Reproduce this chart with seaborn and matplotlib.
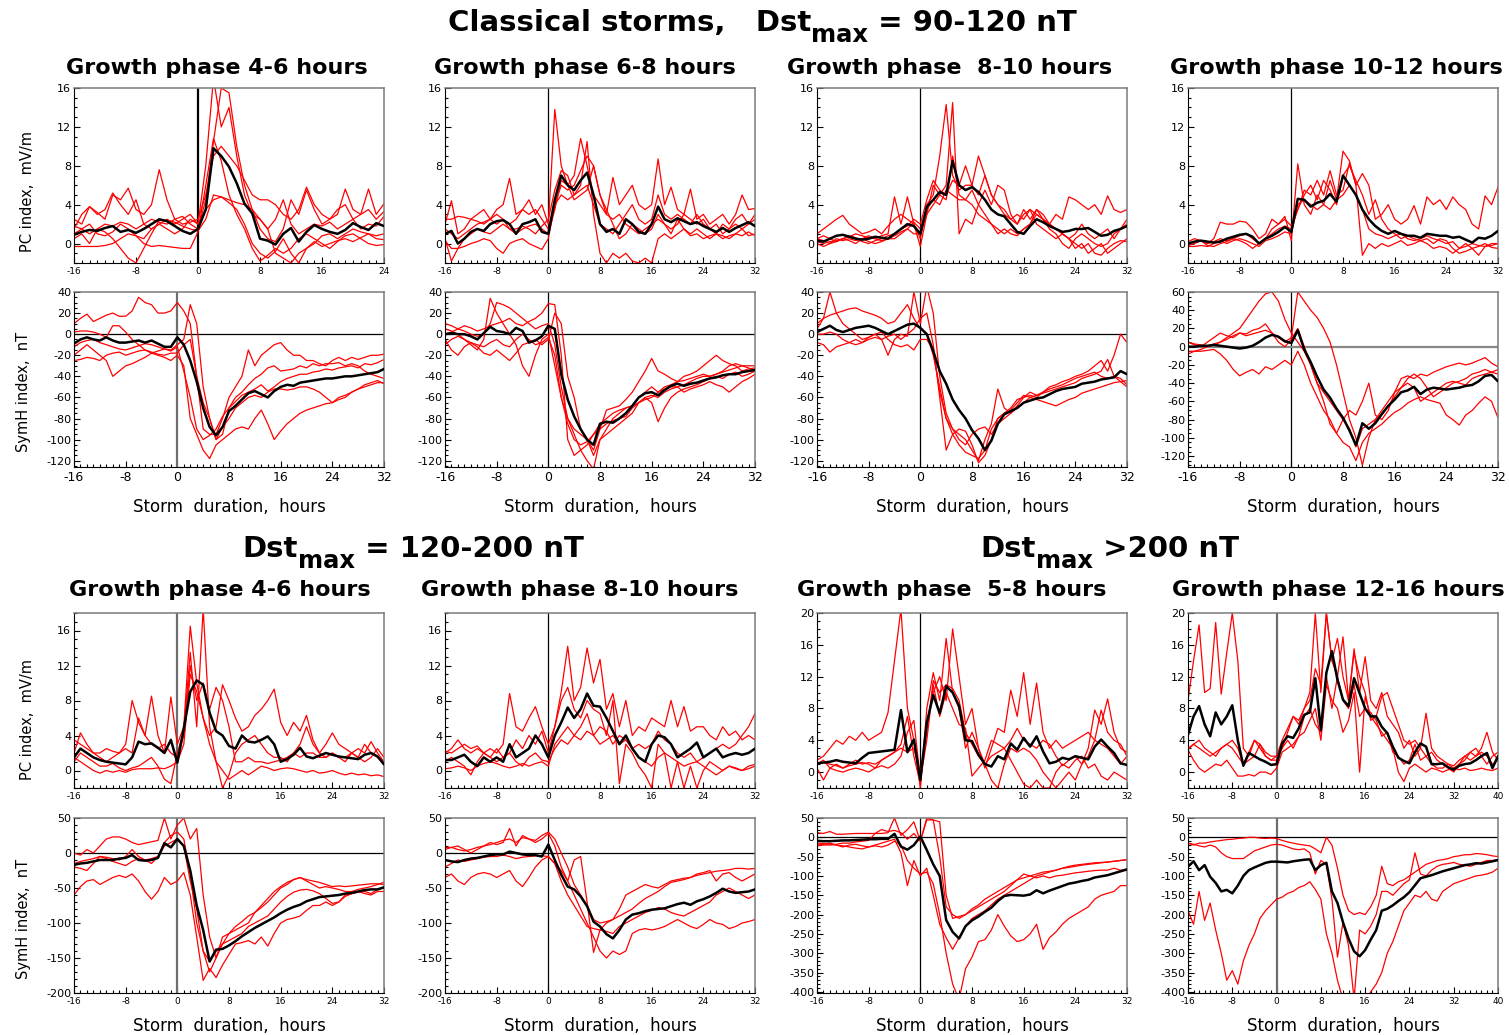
import numpy as np
import pandas as pd
import matplotlib
matplotlib.use("Agg")
import matplotlib.pyplot as plt
import seaborn as sns
from matplotlib.ticker import MultipleLocator
from matplotlib.transforms import IdentityTransform

# ---------------- data (hourly values) ----------------
# Row 1: PC index, Dst 90-120 nT
A_mean = [0.9, 1.2, 1.4, 1.3, 1.6, 1.8, 1.2, 1.4,
          1.1, 1.5, 2.0, 2.5, 2.3, 1.8, 1.3, 1.0,
          1.5, 3.5, 9.8, 9.0, 7.9, 6.2, 4.1, 3.1,
          0.5, 0.3, -0.1, 1.0, 1.6, 0.2, 1.2, 1.9,
          1.5, 1.2, 1.0, 1.4, 2.1, 1.7, 1.4, 2.1,
          1.8]
A_storms = [
    [1.5, 3.0, 3.8, 3.2, 2.5, 5.0, 4.5, 5.7,
     3.5, 3.0, 4.0, 7.6, 4.5, 2.5, 2.8, 2.0,
     1.5, 4.5, 10.5, 16.0, 15.5, 10.0, 6.0, 3.5,
     1.5, 0.5, 0.2, 1.5, 4.5, 3.0, 5.5, 3.5,
     2.0, 2.5, 3.0, 5.6, 3.5, 3.0, 5.6, 3.0,
     4.1],
    [0.5, 1.0, 0.0, 1.5, 1.2, 0.5, -0.5, -1.5,
     -2.0, -0.5, 1.0, 2.4, 2.4, 2.2, 1.8, 1.5,
     1.3, 2.5, 5.0, 4.8, 4.2, 3.5, 2.0, 0.0,
     -1.0, -1.5, -0.8, 0.5, -1.0, -2.0, -0.5, 0.2,
     -0.3, 0.0, 0.3, 0.5, 0.2, 0.6, 1.0, 0.8,
     1.0],
    [-0.3, -0.3, -0.3, -0.3, -0.2, 0.0, 0.5, 1.0,
     0.8, 0.0, -0.3, -0.2, -0.3, -0.4, -0.5, -0.5,
     1.2, 6.0, 10.8, 8.5, 5.0, 3.0, 1.5, -0.5,
     -1.8, -1.2, -0.5, -1.0, -0.5, 0.5, 1.0, 0.5,
     0.0, -0.5, 0.2, 0.8, 1.0, 0.5, 0.0, -0.2,
     -0.1],
    [2.5, 2.0, 3.8, 3.0, 3.5, 5.2, 4.0, 3.0,
     4.5, 2.0, 1.5, 2.0, 2.5, 2.0, 2.5, 3.0,
     2.0, 8.0, 17.0, 12.0, 14.0, 9.0, 5.0, 3.0,
     2.5, 1.5, 2.5, 4.5, 2.0, 1.0, 1.5, 2.0,
     1.8, 2.2, 1.5, 2.0, 2.5, 1.5, 2.0, 1.8,
     2.8],
    [1.0, 1.5, 2.0, 1.0, 0.8, 1.2, 2.0, 1.5,
     0.8, 0.5, 1.5, 2.0, 1.5, 1.0, 1.5, 2.5,
     2.0, 3.5, 4.5, 4.8, 4.5, 4.2, 4.0, 3.5,
     2.5, 1.5, -1.0, -1.5, -2.0, -1.0, -0.5, 0.0,
     0.8, 1.0, 0.5, 1.0, 1.5, 1.2, 1.0, 0.5,
     0.4],
    [1.8, 1.5, 1.0, 1.5, 2.0, 1.8, 2.2, 2.0,
     1.5, 2.0, 2.5, 2.2, 2.0, 2.5, 2.0, 2.2,
     2.5, 5.0, 9.0, 10.0, 9.0, 8.0, 6.5, 5.0,
     4.5, 4.5, 4.0, 3.0, 2.5, 3.5, 5.8, 4.0,
     3.0, 2.5, 3.5, 4.0, 2.5, 3.0, 3.5, 2.5,
     3.3],
]

B_mean = [1.0, 1.3, 0.0, 0.5, 1.2, 1.5, 1.3, 2.0,
          2.3, 2.4, 2.0, 1.0, 2.0, 2.2, 2.5, 1.2,
          1.0, 4.5, 7.0, 6.0, 5.5, 6.5, 7.3, 5.0,
          2.0, 1.2, 1.5, 1.0, 2.5, 2.0, 1.2, 1.0,
          2.0, 3.8, 2.5, 2.2, 2.6, 2.3, 2.0, 2.2,
          1.8, 1.5, 1.2, 1.6, 1.2, 1.6, 1.9, 2.2,
          1.8]
B_storms = [
    [2.0, 4.4, 1.0, 1.5, 2.5, 3.0, 3.5, 2.5,
     3.5, 4.0, 6.7, 3.0, 3.5, 4.5, 3.0, 4.0,
     2.0, 13.8, 8.0, 6.0, 7.0, 10.8, 8.0, 5.0,
     4.0, 3.0, 6.8, 4.0, 5.0, 6.0, 4.0, 3.5,
     4.0, 8.7, 4.0, 5.8, 3.5, 3.0, 5.6, 2.5,
     3.0, 2.0, 2.5, 3.0, 2.0, 3.0, 5.0, 3.5,
     3.6],
    [0.5, -1.8, -0.5, 0.5, 1.0, 1.5, 1.2, 1.0,
     1.5, 2.0, 1.5, 1.5, 1.8, 1.5, 1.0, 1.8,
     2.5, 5.5, 7.5, 7.0, 5.0, 6.0, 10.5, 3.0,
     -1.0, -2.0, -1.0, -1.5, -1.0, -1.8, -2.0, -1.5,
     -2.0, 0.5, 1.0, 0.5, 1.0, 1.5, 0.8, 1.0,
     0.5, 0.8, 1.0, 0.5, 0.8, 1.0, 0.8, 1.2,
     0.8],
    [0.3, -0.5, -0.5, -0.3, 0.0, 0.2, 0.5, 0.3,
     -0.5, -1.0, 0.0, 0.3, 0.5, 0.0, -0.3, -0.6,
     0.5, 4.0, 6.0, 5.5, 6.0, 7.5, 9.0, 8.0,
     5.0, 3.0, 2.5, 3.0, 2.0, 1.5, 1.0, 1.5,
     2.0, 2.5, 2.0, 1.5, 2.0, 3.0, 2.5, 2.0,
     2.5, 1.5, 1.0, 2.0, 1.5, 2.5, 3.0, 2.0,
     2.5],
    [2.5, 2.5, 2.8, 2.7, 2.5, 2.3, 2.0, 2.5,
     3.0, 2.5, 2.0, 2.5, 3.5, 3.0, 3.5, 2.5,
     1.5, 4.0, 5.0, 4.5, 5.0, 5.5, 6.0, 4.0,
     2.0, 1.5, 1.0, 2.0, 3.0, 4.0, 2.5, 2.0,
     2.5, 5.0, 3.0, 2.5, 3.0, 2.5, 2.0, 3.0,
     2.0, 1.5, 2.0, 1.0, 1.5, 2.0, 1.5, 2.0,
     3.0],
    [1.5, 1.0, 0.5, 1.0, 1.5, 2.0, 2.2, 2.5,
     2.0, 2.5, 1.5, 1.0, 1.5, 1.8, 2.0, 1.5,
     1.0, 3.5, 6.5, 6.0, 4.5, 5.0, 5.5, 8.0,
     5.0, 3.5, 2.0, 0.5, 1.0, 2.0, 1.5, 1.0,
     1.5, 3.0, 2.0, 1.0, 2.5, 1.5, 1.0, 1.5,
     1.0, 0.5, 1.0, 0.8, 0.5, 1.0, 1.5, 0.8,
     1.0],
]

C_mean = [0.3, 0.2, 0.5, 0.8, 0.9, 0.7, 0.5, 0.4,
          0.5, 0.7, 0.6, 0.5, 1.0, 1.5, 2.0, 1.8,
          1.0, 3.8, 4.5, 5.3, 5.0, 8.5, 6.0, 5.5,
          5.8, 5.3, 4.5, 3.5, 3.0, 2.8, 2.0, 1.2,
          1.0, 1.8, 2.5, 2.2, 1.8, 1.5, 1.2, 1.3,
          1.5, 1.5, 1.6, 1.2, 0.8, 0.9, 1.3, 1.5,
          1.8]
C_storms = [
    [1.0, 1.5, 2.0, 2.5, 2.9, 2.0, 1.5, 1.0,
     1.2, 1.5, 1.0, 1.8, 2.5, 3.0, 2.5, 2.0,
     0.5, 4.0, 5.0, 9.0, 14.3, 7.0, 5.5, 6.0,
     6.0, 9.0, 7.0, 5.0, 4.0, 3.0, 2.5, 3.0,
     2.5, 3.5, 3.0, 2.5, 2.0, 3.0, 2.5, 4.8,
     4.5, 4.0, 3.5, 4.0, 3.0, 4.9, 3.5, 3.2,
     3.5],
    [0.0, -0.3, 0.0, 0.2, 0.5, 0.3, 0.0, 0.5,
     0.8, 0.5, 0.8, 1.0, 4.8, 2.0, 4.8, 2.0,
     -0.3, 3.0, 6.0, 5.0, 6.0, 14.5, 1.0, 2.5,
     2.0, 4.0, 5.5, 4.0, 6.0, 5.5, 3.0, 2.0,
     3.0, 3.5, 2.0, 1.5, 1.0, 0.5, 1.0, 0.5,
     -0.5, 0.0, -1.0, -0.5, 0.0, -1.0, -0.5, 0.0,
     0.5],
    [0.5, 0.8, 0.5, 0.2, 0.5, 0.8, 0.6, 0.2,
     0.0, 0.3, 0.5, 0.8, 1.0, 1.5, 1.8, 2.5,
     2.0, 4.5, 6.5, 5.5, 5.0, 6.5, 6.0, 8.0,
     6.0, 5.0, 7.0, 5.0, 4.0, 3.5, 2.5, 2.0,
     3.5, 2.5, 3.5, 3.0, 2.0, 1.5, 1.0, 0.5,
     0.0, -0.5, 0.0, -1.0, -1.2, -0.5, 0.0, 0.3,
     0.2],
    [0.2, 0.0, 0.2, 0.3, 0.5, 0.7, 1.0, 0.8,
     0.6, 0.5, 0.3, 0.5, 0.8, 1.2, 1.5, 2.2,
     1.5, 3.5, 4.5, 4.0, 5.5, 5.0, 4.5, 4.5,
     4.0, 3.0, 2.5, 2.0, 1.5, 1.0, 1.5, 1.0,
     1.5, 2.0, 3.0, 2.5, 2.0, 1.5, 1.0, 0.5,
     1.0, 2.0, 1.0, 0.5, 1.0, 1.5, 0.5, 1.5,
     2.0],
    [0.5, 0.3, 0.0, 0.5, 0.3, 0.5, 0.3, 0.5,
     0.2, 0.0, 0.2, 0.5, 0.5, 1.0, 1.5, 1.0,
     1.0, 3.0, 4.0, 5.0, 4.5, 9.0, 5.0, 4.5,
     5.5, 4.0, 3.0, 2.0, 1.0, 1.5, 1.0, 0.8,
     1.5, 2.0, 3.5, 2.5, 1.5, 1.0, 0.0, -0.5,
     0.5, 1.0, 0.5, 0.0, -0.3, 0.0, 1.0, 1.5,
     2.5],
]

D_mean = [0.0, 0.2, 0.3, 0.2, 0.1, 0.2, 0.5, 0.7,
          0.9, 1.0, 0.7, 0.0, 0.5, 0.8, 1.2, 1.7,
          1.2, 4.6, 4.5, 3.8, 4.2, 4.4, 5.1, 4.3,
          7.0, 6.0, 5.0, 3.5, 2.5, 1.8, 1.3, 1.0,
          1.3, 1.0, 0.8, 0.8, 0.6, 1.0, 0.9, 0.8,
          0.8, 0.6, 0.7, 0.4, 0.1, 0.6, 0.5, 0.8,
          1.3]
D_storms = [
    [0.0, 0.2, 0.3, 0.0, 0.5, 2.2, 2.0, 2.0,
     2.3, 2.2, 1.5, 0.5, 1.0, 2.5, 2.0, 2.5,
     1.8, 3.5, 5.5, 5.0, 6.5, 5.0, 7.5, 5.0,
     5.5, 8.3, 6.0, 7.2, 6.0, 2.5, 3.0, 4.0,
     2.5, 2.0, 2.5, 3.9, 2.0, 4.8, 4.0, 4.5,
     3.5, 4.8, 4.0, 3.5, 2.0, 1.5, 4.9, 4.0,
     5.8],
    [-0.2, 0.0, 0.3, -0.2, -0.3, 0.0, 0.2, 0.5,
     0.3, 0.0, -0.5, 0.0, 0.5, 1.5, 2.0, 2.8,
     0.3, 8.2, 4.0, 3.0, 5.0, 4.0, 3.5, 4.5,
     9.5, 8.5, 6.0, -1.2, 0.0, -0.5, 0.0, -0.3,
     0.0, 0.3, -0.2, 0.0, 0.3, 0.0, -0.5, -0.3,
     -0.5, -1.0, -0.5, 0.0, -0.5, -0.3, 0.0, -0.4,
     -0.5],
    [0.2, 0.5, 0.3, 0.0, 0.2, 0.5, 0.3, 0.5,
     0.8, 1.0, 0.5, 0.0, 0.5, 1.0, 1.5, 1.8,
     1.5, 3.5, 5.0, 6.0, 4.5, 6.5, 5.5, 4.0,
     7.0, 8.0, 6.5, 5.0, 3.0, 4.5, 2.5, 1.5,
     1.0, 0.5, 0.8, 0.5, 0.3, 0.5, 0.0, 0.5,
     0.3, -0.5, -1.0, -0.8, -0.5, -1.2, -0.3, 0.0,
     0.0],
    [-0.3, -0.3, -0.2, -0.3, 0.0, 0.3, 0.0, 0.3,
     0.5, 0.3, 0.0, -0.3, 0.3, 0.5, 0.8, 1.2,
     1.0, 4.0, 4.5, 4.0, 3.5, 4.0, 6.5, 4.5,
     5.0, 6.0, 5.0, 3.5, 1.5, 1.0, 0.8, 0.5,
     0.8, 1.0, 0.5, 0.3, 0.5, 0.8, 0.5, 0.3,
     0.0, 0.2, -0.5, -0.3, 0.0, -0.2, -0.3, -0.2,
     0.0],
]

# Row 2: SymH index, Dst 90-120 nT
E_mean = [-9, -5, -3, -5, -6, -3, -6, -8,
          -8, -7, -6, -8, -6, -9, -12, -12,
          -3, -10, -25, -45, -70, -88, -96, -88,
          -73, -68, -62, -56, -54, -57, -60, -54,
          -50, -48, -49, -46, -45, -44, -43, -42,
          -42, -41, -40, -40, -39, -38, -37, -36,
          -33]
E_storms = [
    [10, 15, 19, 12, 15, 18, 20, 17,
     17, 22, 35, 30, 28, 20, 20, 22,
     30, 22, 10, -40, -90, -95, -95, -80,
     -60, -50, -40, -15, -30, -20, -15, -10,
     -8, -15, -20, -20, -25, -25, -28, -30,
     -25, -22, -25, -22, -24, -22, -20, -20,
     -19],
    [-20, -15, -10, -15, -20, -25, -40, -35,
     -30, -28, -25, -22, -18, -20, -22, -25,
     -20, -30, -80, -95, -110, -118, -105, -100,
     -95, -90, -88, -90, -80, -72, -85, -100,
     -92, -85, -80, -75, -72, -70, -68, -66,
     -65, -60, -58, -55, -52, -50, -48, -46,
     -46],
    [2, 3, 3, 2, 0, -3, 8, 8,
     2, -5, -10, -15, -18, -16, -14, -15,
     -10, -5, 28, 10, -50, -80, -100, -95,
     -70, -60, -55, -48, -42, -38, -32, -30,
     -35, -34, -33, -30, -32, -28, -30, -28,
     -28, -27, -30, -28, -30, -35, -38, -40,
     -42],
    [-25, -24, -22, -23, -25, -20, -18, -17,
     -20, -18, -16, -15, -17, -19, -20, -18,
     -18, -10, -5, -40, -65, -80, -100, -88,
     -80, -70, -65, -60, -58, -60, -55, -52,
     -52, -53, -52, -50, -50, -52, -55, -60,
     -65, -62, -60, -55, -52, -48, -46, -44,
     -47],
    [-12, -8, -6, -5, -8, -10, -12, -14,
     -15, -13, -11, -9, -10, -12, -14, -16,
     -12, -35, -60, -90, -100, -96, -90, -78,
     -70, -64, -58, -55, -52, -48, -54, -50,
     -45, -42, -40, -38, -38, -36, -35, -33,
     -34, -32, -31, -30, -32, -28, -29, -27,
     -24],
]

F_mean = [0, 1, 0, 0, -2, -5, 1, 7,
          3, 2, 0, 6, 3, -8, -6, -2,
          8, 5, -38, -62, -78, -90, -100, -105,
          -85, -83, -84, -80, -75, -68, -60, -56,
          -55, -58, -53, -49, -47, -49, -47, -46,
          -44, -42, -41, -39, -38, -38, -36, -35,
          -34]
F_storms = [
    [5, 3, 0, -5, -10, -15, -5, 34,
     20, 10, 0, -10, -30, -40, -20, -5,
     0, -30, -60, -80, -95, -110, -120, -128,
     -100, -95, -90, -85, -80, -75, -65, -60,
     -65, -83, -70, -60, -55, -52, -50, -48,
     -45, -42, -40, -42, -38, -36, -40, -38,
     -35],
    [10, 8, 5, 8, 6, 3, 5, 8,
     10, 12, 15, 10, 8, 12, 15, 20,
     29, 28, -20, -100, -115, -110, -105, -95,
     -85, -80, -75, -72, -70, -68, -65, -62,
     -60, -55, -52, -50, -50, -48, -45, -42,
     -40, -40, -38, -36, -34, -32, -30, -30,
     -30],
    [-5, -15, -20, -12, -8, -12, -18, -20,
     -15, -20, -25, -18, -10, -8, -5, -10,
     -5, 20, 10, -40, -60, -90, -100, -115,
     -100, -90, -80, -75, -70, -68, -60, -55,
     -50, -55, -50, -48, -45, -44, -42, -40,
     -38, -40, -38, -35, -30, -28, -30, -32,
     -35],
    [0, 2, 5, 3, 0, -2, 0, 10,
     30, 28, 25, 20, 15, 10, 5, 8,
     10, -10, -50, -80, -90, -95, -100, -110,
     -90, -72, -70, -68, -62, -55, -45, -35,
     -23, -35, -38, -42, -45, -40, -38, -35,
     -30, -25, -20, -25, -28, -30, -35, -33,
     -32],
    [-10, -5, -2, -5, -8, -10, -12, -8,
     -5, -10, -12, -5, 0, -5, -10, -8,
     -3, -20, -60, -85, -100, -105, -102, -95,
     -90, -85, -82, -80, -78, -70, -65, -60,
     -58, -60, -55, -52, -50, -55, -52, -50,
     -48, -45, -48, -50, -55, -50, -45, -42,
     -38],
]

G_mean = [2, 5, 8, 4, 2, 4, 6, 7,
          8, 6, 3, 0, 3, 6, 9, 10,
          6, 0, -16, -35, -47, -62, -72, -80,
          -91, -99, -110, -101, -85, -76, -73, -70,
          -65, -63, -61, -60, -57, -54, -52, -51,
          -50, -47, -46, -45, -43, -42, -41, -35,
          -38]
G_storms = [
    [5, 15, 40, 20, 10, 5, 0, -5,
     -3, 0, -5, -20, -5, 0, -2, 40,
     10, 45, 20, -40, -75, -90, -95, -100,
     -110, -120, -100, -85, -52, -70, -75, -68,
     -60, -55, -58, -55, -50, -48, -45, -43,
     -40, -38, -35, -30, -25, -35, -20, 0,
     -8],
    [10, 15, 18, 20, 22, 24, 25, 22,
     20, 18, 15, 10, 12, 20, 28, 15,
     5, 0, -20, -50, -80, -95, -105, -112,
     -115, -118, -110, -90, -80, -75, -70, -62,
     -60, -58, -60, -55, -52, -50, -48, -45,
     -42, -40, -38, -36, -40, -42, -40, -45,
     -44],
    [-8, -10, -17, -12, -10, -8, -5, -8,
     -3, 0, 2, -5, -10, -12, -10, -15,
     -5, -5, -15, -55, -80, -90, -100, -105,
     -95, -90, -88, -95, -85, -80, -75, -70,
     -65, -60, -62, -64, -66, -68, -65, -62,
     -60, -56, -54, -52, -50, -48, -46, -45,
     -50],
    [0, 0, 2, 0, -5, -8, -10, -8,
     -5, -3, -5, -2, 0, -5, 0, 5,
     15, 20, -10, -60, -110, -95, -90, -92,
     -105, -122, -115, -100, -80, -75, -72, -65,
     -58, -60, -58, -56, -54, -52, -50, -48,
     -46, -42, -40, -38, -35, -24, -40, -42,
     -48],
]

H_mean = [0, 0, 1, 1, 2, 1, 0, -1,
          -2, -1, 1, 5, 10, 13, 11, 6,
          4, 18, -3, -17, -33, -47, -56, -68,
          -78, -92, -108, -84, -90, -84, -74, -65,
          -58, -50, -48, -44, -52, -47, -45, -46,
          -47, -46, -45, -43, -42, -38, -32, -31,
          -38]
H_storms = [
    [5, 3, 2, 0, 3, 5, 10, 15,
     20, 30, 40, 50, 58, 60, 50, 30,
     15, 5, -5, -20, -40, -60, -85, -95,
     -80, -70, -75, -60, -40, -75, -80, -70,
     -50, -35, -32, -35, -30, -32, -28, -25,
     -22, -20, -18, -20, -18, -15, -12, -18,
     -22],
    [-8, -5, -3, 0, 2, 5, 8, 12,
     15, 12, 14, 16, 18, 15, 10, 5,
     10, 60, 50, 40, 32, 20, 5, -20,
     -50, -80, -100, -130, -100, -80, -75, -65,
     -55, -45, -35, -30, -35, -45, -55, -50,
     -45, -40, -38, -35, -30, -28, -25, -28,
     -25],
    [-5, -5, -5, -4, -3, -8, -15, -25,
     -32, -28, -25, -30, -22, -25, -20, -15,
     -20, -5, -20, -40, -55, -70, -80, -95,
     -105, -110, -125, -105, -95, -90, -85, -78,
     -72, -68, -62, -58, -55, -58, -60, -62,
     -75, -80, -86, -75, -70, -62, -55, -60,
     -78],
    [5, 2, 0, 5, 10, 15, 12, 10,
     15, 14, 18, 20, 25, 15, 5, 0,
     8, 20, 0, -20, -40, -50, -60, -70,
     -80, -90, -110, -90, -85, -80, -70, -60,
     -50, -45, -40, -45, -60, -55, -50, -45,
     -40, -38, -40, -42, -35, -32, -30, -28,
     -30],
]

# Row 3: PC index, Dst 120-200 nT and >200 nT
I_mean = [1.5, 2.5, 2.0, 1.5, 1.2, 1.0, 0.9, 0.8,
          0.7, 1.5, 3.3, 3.0, 3.1, 2.6, 2.0, 3.5,
          0.9, 4.8, 9.0, 10.3, 9.8, 6.6, 4.5, 4.0,
          2.8, 2.5, 4.0, 3.3, 3.2, 3.5, 3.9, 3.0,
          1.0, 1.3, 1.8, 2.6, 1.6, 1.4, 1.7, 2.0,
          1.8, 1.6, 1.5, 1.4, 1.3, 1.8, 2.0, 1.6,
          0.7]
I_storms = [
    [2.0, 4.3, 3.0, 2.0, 1.5, 1.0, 1.5, 2.0,
     3.0, 8.0, 5.5, 4.0, 8.5, 4.0, 2.0, 8.4,
     3.0, 5.0, 16.5, 10.0, 6.0, 4.0, 5.0, 9.8,
     8.0, 6.0, 4.5, 5.0, 6.3, 7.0, 8.0, 9.3,
     5.5, 4.0, 5.5, 4.5, 6.3, 3.5, 2.0, 3.0,
     4.3, 3.0, 2.5, 2.0, 2.5, 2.0, 3.3, 2.0,
     1.0],
    [1.0, 2.0, 1.5, 1.0, 0.5, 0.5, 0.8, 0.3,
     0.0, 0.3, 0.5, 1.0, 1.5, 0.5, -1.0, -1.5,
     2.0, 4.5, 13.5, 5.0, 18.5, 5.0, 1.0, -2.0,
     -0.5, 2.0, 3.0, 3.5, 4.0, 3.0, 2.0, 1.5,
     1.5, 1.0, 2.0, 3.0, 5.0, 3.0, 2.0, 1.5,
     2.0, 1.5, 1.0, 2.0, 1.5, 3.0, 2.0, 1.5,
     1.0],
    [1.5, 1.0, 0.5, 0.0, -0.3, 0.0, -0.2, 0.0,
     -0.2, 0.1, 0.2, 0.2, 0.2, 0.3, 0.2, 0.5,
     1.0, 3.0, 11.0, 9.0, 6.0, 3.0, 1.0, 0.0,
     -1.0, -0.5, 0.0, -0.5, 0.0, 0.5, 0.3, 0.0,
     0.2, 0.3, 0.2, 0.0, -0.2, 0.0, -0.3, -0.2,
     0.0, -0.3, -0.5, -0.3, -0.5, -0.4, -0.6, -0.5,
     -0.7],
    [3.5, 3.0, 2.5, 2.0, 2.0, 2.5, 2.2, 2.0,
     2.5, 2.0, 6.0, 4.0, 3.0, 2.5, 3.0, 2.0,
     1.5, 4.0, 12.0, 8.0, 10.0, 7.0, 9.5, 8.0,
     5.0, 1.0, 1.0, 1.5, 1.0, 1.0, 0.8, 1.0,
     1.2, 1.5, 2.0, 1.5, 2.0, 2.0, 1.5, 1.5,
     2.0, 1.5, 1.5, 2.0, 1.5, 1.0, 1.5, 2.5,
     1.5],
]

J_mean = [1.2, 1.2, 1.5, 1.8, 1.0, 0.5, 1.5, 1.0,
          1.5, 1.0, 3.0, 1.5, 2.0, 2.5, 4.0, 3.0,
          1.5, 4.0, 5.5, 7.2, 6.0, 7.0, 8.8, 7.4,
          7.3, 6.0, 4.5, 3.0, 4.0, 2.5, 1.5, 1.0,
          3.0, 4.0, 3.8, 3.0, 1.5, 2.0, 2.5, 3.2,
          1.5, 2.0, 2.5, 1.5, 1.8, 2.0, 1.8, 2.0,
          2.5]
J_storms = [
    [2.0, 2.5, 3.5, 2.5, 2.0, 2.5, 2.0, 2.5,
     2.0, 3.0, 8.8, 5.0, 4.5, 6.0, 7.3, 5.0,
     3.0, 5.0, 9.0, 14.2, 8.0, 9.5, 14.0, 10.0,
     12.7, 7.0, 8.8, 5.0, 8.0, 4.0, 5.0, 4.5,
     6.0, 5.5, 5.0, 8.0, 5.0, 7.3, 4.5, 5.0,
     5.0, 4.0, 3.5, 5.0, 4.0, 4.5, 3.5, 4.0,
     3.5],
    [1.0, 1.5, 1.0, 0.5, -0.5, 1.0, 2.0, 1.5,
     1.0, 1.5, 2.0, 3.5, 2.5, 4.0, 3.0, 4.5,
     2.0, 5.0, 8.0, 9.5, 7.0, 6.0, 8.0, 7.0,
     6.5, 4.0, 8.0, -1.5, 3.0, 2.0, 0.5, -0.5,
     -2.0, 3.0, 2.0, -2.0, 1.0, -2.0, 0.5, -2.0,
     0.0, 1.0, 0.5, 0.0, 0.5, 0.2, 0.0, 0.5,
     0.7],
    [0.2, 0.3, 0.5, 0.3, 0.0, 0.5, 0.8, 1.0,
     0.8, 0.5, 0.3, 0.5, 0.8, 0.5, 0.8, 1.0,
     0.5, 3.0, 4.0, 5.0, 4.0, 5.0, 6.5, 4.0,
     5.0, 4.5, 3.0, 4.0, 3.5, 2.5, 1.5, 1.0,
     0.5, 1.5, 2.0, 1.5, 1.0, 0.5, 0.8, 1.0,
     0.5, 0.0, -0.5, 0.0, 0.5, 0.3, 0.0, 0.2,
     0.5],
    [2.2, 2.0, 2.5, 3.0, 2.5, 2.8, 2.0, 1.5,
     2.5, 1.5, 2.0, 1.0, 0.5, 1.5, 2.0, 1.2,
     1.0, 2.5, 3.5, 3.0, 4.0, 3.5, 4.5, 4.0,
     3.0, 3.5, 4.0, 3.0, 3.5, 2.5, 3.0, 2.5,
     3.0, 4.5, 3.5, 3.0, 2.0, 1.5, 2.0, 1.0,
     1.5, 2.0, 2.5, 3.0, 2.5, 3.0, 4.0, 5.0,
     6.5],
]

K_mean = [1.1, 1.2, 1.3, 1.5, 1.3, 1.2, 1.1, 1.8,
          2.4, 2.5, 2.6, 2.7, 2.8, 7.8, 2.5, 4.1,
          -1.0, 6.2, 9.7, 7.4, 10.8, 10.0, 8.3, 4.0,
          3.9, 2.2, 1.0, 0.7, 2.0, 1.6, 3.6, 2.8,
          4.3, 3.2, 4.5, 2.6, 1.1, 1.3, 1.8, 1.6,
          2.0, 1.8, 1.6, 3.2, 4.1, 3.2, 2.4, 1.1,
          0.9]
K_storms = [
    [1.5, 2.0, 3.0, 4.0, 3.5, 4.5, 4.0, 5.0,
     4.0, 4.5, 5.0, 7.5, 14.0, 20.5, 8.0, 4.0,
     -2.0, 8.0, 12.5, 9.0, 16.8, 10.0, 8.0, 3.0,
     5.0, 3.0, 1.0, -1.0, -2.0, 1.0, 3.0, 2.5,
     3.0, 2.5, 1.5, 0.0, -1.0, -2.0, -1.0, 0.0,
     -1.0, 1.0, 3.0, 7.8, 6.0, 9.2, 5.0, 3.0,
     2.5],
    [0.5, -1.0, 0.5, 1.0, 0.5, 1.0, 1.5, 1.0,
     1.2, 1.0, 1.5, 2.0, 2.5, 3.5, 7.0, 2.0,
     -1.5, 6.0, 10.0, 12.0, 9.0, 18.0, 12.0, 6.0,
     8.0, 3.0, 0.5, 3.0, 5.5, 5.0, 10.3, 7.0,
     12.5, 6.0, 11.2, 5.0, 3.0, 4.0, 3.0, 3.5,
     4.0, 4.5, 5.0, 4.0, 3.5, 3.0, 2.0, 1.0,
     2.0],
    [1.0, 1.5, 0.5, 0.2, 0.0, 0.3, 0.5, 0.3,
     0.0, 0.5, 0.8, 0.5, 1.0, 2.0, 5.0, 6.5,
     -1.0, 4.0, 11.0, 7.0, 10.0, 8.0, 6.0, 5.5,
     -0.5, 0.5, 1.5, 4.0, 3.5, 3.0, 1.5, 0.0,
     -1.5, -2.0, -1.0, -2.0, -2.0, 0.0, 1.0, 0.5,
     1.5, 2.0, 0.5, 1.0, -0.5, -1.0, 0.0, -0.5,
     -1.0],
    [1.0, 1.2, 1.0, 0.8, 0.5, 0.8, 1.0, 1.2,
     1.0, 0.5, 1.5, 2.0, 2.5, 3.0, 2.5, 3.0,
     0.0, 5.0, 11.5, 10.0, 11.0, 10.5, 9.0, 5.0,
     3.5, 2.0, 1.0, 2.0, 2.5, 3.0, 4.0, 5.5,
     4.0, 3.5, 3.0, 4.0, 3.5, 2.0, 0.8, 1.5,
     2.0, 1.0, 2.0, 4.0, 7.8, 5.0, 4.0, 3.5,
     2.0],
]

L_mean = [4.7, 7.0, 8.3, 6.0, 4.5, 7.5, 6.0, 7.0,
          8.4, 4.0, 0.8, 2.4, 2.0, 1.6, 1.3, 0.9,
          1.0, 3.6, 4.5, 4.3, 5.5, 7.2, 7.5, 11.8,
          5.3, 12.5, 15.2, 11.6, 9.1, 8.3, 11.8, 9.9,
          8.0, 7.0, 7.0, 5.7, 4.9, 3.2, 1.8, 1.4,
          1.1, 2.5, 3.6, 3.2, 1.0, 1.0, 1.1, 0.6,
          0.3, 0.8, 1.0, 1.1, 1.5, 2.0, 2.4, 0.5,
          2.0]
L_storms = [
    [9.0, 14.0, 18.5, 10.0, 10.5, 18.8, 9.8, 15.0,
     20.0, 14.0, 3.0, 2.0, 4.0, 3.5, 2.0, 1.5,
     2.0, 3.0, 5.0, 7.0, 6.0, 8.0, 10.0, 20.0,
     10.0, 20.0, 14.0, 16.8, 12.0, 9.0, 15.5, 10.0,
     14.5, 9.0, 8.0, 10.0, 7.0, 6.0, 5.0, 3.0,
     4.0, 2.0, 3.0, 7.4, 3.0, 2.0, 1.5, 1.0,
     0.5, 1.0, 2.0, 1.5, 2.0, 3.0, 5.0, 2.5,
     1.5],
    [2.8, 3.5, 4.0, 3.0, 2.5, 2.0, 3.0, 3.5,
     3.0, 2.0, 1.0, 1.5, 2.0, 3.5, 2.5, 2.0,
     2.0, 4.0, 5.5, 7.0, 6.5, 8.0, 9.0, 13.0,
     11.0, 20.0, 14.0, 12.0, 17.0, 9.0, 15.0, 12.0,
     10.0, 6.5, 7.0, 9.5, 10.0, 8.0, 6.0, 4.0,
     3.5, 4.0, 3.0, 2.0, 1.0, 0.5, 0.5, 1.0,
     0.8, 1.5, 2.0, 2.5, 2.0, 2.5, 2.0, 1.0,
     1.5],
    [2.8, 1.5, 0.5, 0.0, 0.5, 1.0, 0.8, 1.5,
     0.5, -0.5, -0.5, -0.3, -0.5, 0.0, 0.0, -0.3,
     0.5, 2.5, 3.0, 3.5, 4.5, 5.0, 6.5, 8.0,
     4.0, 11.0, 9.0, 8.0, 5.0, 6.5, 10.0, 0.0,
     9.5, 7.0, 6.0, 5.0, 4.0, 3.0, 0.0, -1.2,
     0.5, 1.0, 0.5, 0.0, 0.5, 0.3, 0.0, 0.3,
     0.5, 0.3, 0.5, 0.2, 0.3, 0.5, 0.3, 0.2,
     0.5],
    [3.0, 3.5, 3.0, 2.5, 2.0, 2.5, 3.0, 3.5,
     4.0, 3.0, 1.0, 2.5, 4.0, 3.0, 2.0, 1.5,
     1.5, 3.0, 4.0, 3.0, 4.5, 7.0, 8.0, 6.0,
     5.0, 12.0, 8.0, 12.0, 9.0, 8.0, 11.0, 7.0,
     8.0, 7.5, 6.5, 4.5, 5.0, 2.5, 2.0, 1.0,
     1.5, 3.5, 1.5, 2.0, 2.5, 1.5, 1.0, 0.5,
     0.0, 1.0, 1.5, 2.5, 3.0, 2.0, 1.0, 2.0,
     2.5],
]

# Row 4: SymH index, Dst 120-200 nT and >200 nT
M_mean = [-17, -15, -14, -12, -10, -10, -10, -8,
          -7, -3, -10, -11, -10, -7, 14, 8,
          20, 10, -25, -75, -110, -155, -138, -137,
          -132, -126, -119, -113, -107, -102, -97, -92,
          -86, -81, -77, -74, -69, -66, -63, -62,
          -61, -60, -58, -57, -55, -53, -52, -52,
          -49]
M_storms = [
    [0, -3, 5, 0, 10, 20, 23, 23,
     20, 15, 12, 14, 16, 18, 50, 20,
     40, 50, 20, 35, -60, -120, -150, -120,
     -115, -110, -105, -100, -85, -75, -65, -55,
     -48, -42, -38, -35, -38, -40, -42, -45,
     -48, -47, -48, -47, -46, -45, -44, -44,
     -45],
    [-60, -48, -40, -38, -45, -40, -35, -32,
     -35, -30, -40, -55, -66, -55, -35, -45,
     -40, -28, -60, -120, -182, -165, -178, -160,
     -145, -130, -128, -125, -130, -120, -133, -115,
     -100, -95, -93, -90, -82, -75, -75, -70,
     -75, -70, -60, -58, -55, -58, -60, -55,
     -55],
    [-20, -22, -25, -15, -5, -8, -12, -15,
     -18, -12, -8, -10, -15, -5, 15, 25,
     30, 20, -30, -100, -140, -170, -150, -130,
     -125, -120, -115, -105, -100, -95, -90, -80,
     -70, -62, -56, -53, -52, -54, -58, -65,
     -72, -70, -62, -58, -56, -55, -58, -52,
     -50],
    [-15, -12, -10, -8, -5, -6, -8, -10,
     -5, 5, -5, -10, -8, -5, 10, 15,
     20, 10, -40, -80, -140, -155, -140, -130,
     -115, -105, -98, -90, -85, -78, -70, -60,
     -50, -45, -38, -35, -40, -45, -50, -48,
     -50, -52, -55, -55, -52, -50, -48, -45,
     -42],
]

N_mean = [-10, -12, -13, -10, -8, -7, -5, -3,
          -2, -2, 2, 0, -2, -3, -3, -5,
          12, -10, -31, -48, -52, -62, -76, -98,
          -105, -116, -122, -110, -95, -88, -86, -83,
          -81, -80, -79, -76, -73, -71, -74, -69,
          -66, -62, -57, -51, -55, -57, -56, -55,
          -52]
N_storms = [
    [8, 8, 5, 3, 5, 8, 10, 12,
     15, 18, 20, 15, 22, 20, 18, 25,
     30, 20, 0, -20, -45, -60, -75, -95,
     -100, -98, -95, -90, -85, -80, -72, -65,
     -60, -55, -48, -42, -40, -38, -35, -32,
     -30, -28, -26, -25, -24, -22, -22, -23,
     -22],
    [-35, -30, -40, -45, -35, -30, -28, -30,
     -35, -30, -25, -40, -48, -35, -20, -10,
     -5, -15, -25, -40, -60, -80, -100, -120,
     -140, -150, -140, -145, -140, -115, -110, -108,
     -110, -108, -105, -100, -95, -100, -105, -108,
     -102, -95, -100, -102, -108, -105, -100, -98,
     -95],
    [5, 8, 10, 5, 0, 5, 10, 15,
     12, 15, 35, 10, 25, 20, 15, 20,
     28, 10, -20, -40, -10, -5, -70, -142,
     -110, -100, -95, -80, -60, -55, -50, -45,
     -48, -50, -45, -40, -38, -36, -35, -30,
     -28, -25, -40, -30, -28, -35, -40, -35,
     -30],
    [-20, -15, -10, -12, -10, -8, -6, -5,
     -5, -3, -5, -8, -6, -5, -4, -4,
     -5, -15, -40, -60, -75, -90, -105, -108,
     -110, -112, -115, -105, -100, -95, -90, -85,
     -82, -78, -80, -85, -88, -90, -85, -80,
     -75, -70, -60, -55, -50, -55, -60, -65,
     -60],
]

O_mean = [-9, -10, -10, -9, -8, -8, -7, -6,
          -5, -5, -4, -4, 9, -24, -32, -20,
          2, -33, -70, -100, -214, -245, -262, -230,
          -215, -205, -193, -182, -165, -152, -149, -150,
          -151, -148, -137, -145, -138, -132, -126, -120,
          -117, -113, -110, -104, -101, -98, -93, -88,
          -83]
O_storms = [
    [12, 10, 15, 8, 8, 9, 10, 10,
     10, 10, 10, 12, 50, 5, 20, 40,
     -10, 50, 45, 40, -150, -210, -205, -200,
     -190, -180, -170, -160, -150, -140, -125, -110,
     -95, -100, -105, -100, -105, -100, -98, -95,
     -92, -90, -88, -86, -85, -85, -80, -85,
     -85],
    [-20, -18, -15, -20, -25, -20, -18, -22,
     -25, -20, -15, -10, -5, -40, -125, -60,
     -100, -80, -150, -225, -260, -290, -260, -230,
     -210, -200, -190, -175, -160, -150, -140, -130,
     -120, -110, -100, -95, -90, -85, -80, -75,
     -72, -70, -68, -66, -65, -64, -62, -60,
     -58],
    [-22, -20, -20, -18, -15, -15, -12, -10,
     -8, 10, 20, 15, 18, 12, -5, 10,
     -10, 45, 45, -50, -180, -200, -210, -200,
     -185, -175, -160, -150, -140, -130, -120, -110,
     -105, -100, -95, -90, -88, -85, -80, -78,
     -75, -72, -70, -68, -66, -64, -62, -60,
     -58],
    [-15, -16, -18, -20, -22, -25, -28, -30,
     -25, -22, -25, -20, -10, -20, -60, -80,
     -95, -90, -120, -200, -300, -380, -420, -340,
     -310, -270, -265, -240, -200, -230, -255, -270,
     -265, -250, -225, -290, -260, -245, -225, -210,
     -200, -190, -180, -160, -150, -145, -140, -125,
     -125],
]

P_mean = [-76, -62, -85, -72, -102, -118, -140, -136,
          -145, -125, -100, -85, -78, -72, -66, -63,
          -63, -64, -65, -62, -60, -58, -57, -85,
          -72, -66, -140, -170, -220, -262, -295, -308,
          -292, -265, -240, -190, -185, -176, -165, -155,
          -142, -124, -106, -102, -98, -93, -88, -84,
          -80, -76, -72, -70, -67, -68, -65, -62,
          -59]
P_storms = [
    [-15, -20, -15, -15, -12, -10, -8, -6,
     -5, -3, -2, 0, 0, -2, -3, -2,
     -3, -8, -12, -15, -18, -20, -22, -30,
     -40, 0, -20, -80, -150, -190, -200, -195,
     -200, -180, -150, -75, -120, -125, -115, -110,
     -100, -90, -80, -70, -65, -60, -58, -55,
     -50, -48, -45, -45, -42, -43, -45, -48,
     -50],
    [-15, -18, -22, -25, -20, -25, -40, -50,
     -55, -55, -55, -45, -35, -30, -25, -20,
     -18, -20, -25, -30, -32, -30, -40, -95,
     -60, -70, -160, -310, -220, -280, -420, -240,
     -250, -230, -200, -140, -140, -150, -135, -120,
     -110, -40, -95, -100, -85, -75, -70, -68,
     -65, -70, -72, -75, -70, -65, -60, -60,
     -58],
    [-190, -225, -140, -215, -170, -240, -300, -370,
     -345, -380, -320, -280, -250, -210, -190, -175,
     -160, -155, -145, -140, -130, -125, -115, -135,
     -160, -250, -300, -370, -420, -430, -420, -410,
     -430, -400, -380, -350, -300, -270, -230, -190,
     -170, -150, -155, -140, -160, -165, -140, -130,
     -120, -115, -110, -105, -100, -98, -95, -90,
     -80],
]

# ---------------- text ----------------
growth_titles_top = ["Growth phase 4-6 hours", "Growth phase 6-8 hours",
                     "Growth phase  8-10 hours", "Growth phase 10-12 hours"]
growth_titles_bottom = ["Growth phase 4-6 hours", "Growth phase 8-10 hours",
                        "Growth phase  5-8 hours", "Growth phase 12-16 hours"]
pc_label = "PC index,  mV/m"
symh_label = "SymH index,  nT"
xlabel_text = "Storm  duration,  hours"

# ---------------- style ----------------
sns.set_style("ticks")
plt.rcParams["font.family"] = ["DejaVu Sans"]
plt.rcParams["axes.unicode_minus"] = False
plt.rcParams["text.color"] = "black"
plt.rcParams["axes.labelcolor"] = "black"
plt.rcParams["xtick.color"] = "black"
plt.rcParams["ytick.color"] = "black"

W, H = 1509, 1035
fig = plt.figure(figsize=(W / 100, H / 100), dpi=100)
fig.patch.set_facecolor("white")

COL_LEFT = [74, 445, 817, 1188]
ROW_TOP = [88, 292, 613, 818]
AX_W, AX_H = 310, 175

# (row, col, storms, mean, xmax, ylim, ymajor, yminor, zero_hline)
PANELS = [
    (0, 0, A_storms, A_mean, 24, (-2, 16), 4, 1, False),
    (0, 1, B_storms, B_mean, 32, (-2, 16), 4, 1, False),
    (0, 2, C_storms, C_mean, 32, (-2, 16), 4, 1, False),
    (0, 3, D_storms, D_mean, 32, (-2, 16), 4, 1, False),
    (1, 0, E_storms, E_mean, 32, (-126, 40), 20, 5, True),
    (1, 1, F_storms, F_mean, 32, (-126, 40), 20, 5, True),
    (1, 2, G_storms, G_mean, 32, (-126, 40), 20, 5, True),
    (1, 3, H_storms, H_mean, 32, (-132, 60), 20, 5, True),
    (2, 0, I_storms, I_mean, 32, (-2, 18), 4, 1, False),
    (2, 1, J_storms, J_mean, 32, (-2, 18), 4, 1, False),
    (2, 2, K_storms, K_mean, 32, (-2, 20), 4, 1, False),
    (2, 3, L_storms, L_mean, 40, (-2, 20), 4, 1, False),
    (3, 0, M_storms, M_mean, 32, (-200, 50), 50, 10, True),
    (3, 1, N_storms, N_mean, 32, (-200, 50), 50, 10, True),
    (3, 2, O_storms, O_mean, 32, (-403, 50), 50, 10, True),
    (3, 3, P_storms, P_mean, 40, (-403, 50), 50, 10, True),
]

GRAY_ZERO = {(0, 0), (1, 0), (2, 0), (2, 3), (3, 0), (3, 3)}

for row, col, storms, mean, xmax, ylim, ymaj, ymin, zero_h in PANELS:
    left = COL_LEFT[col]
    top = ROW_TOP[row]
    ax = fig.add_axes([left / W, 1 - (top + AX_H) / H, AX_W / W, AX_H / H])
    frames = []
    for k, series in enumerate(storms):
        frames.append(pd.DataFrame({"hour": np.arange(-16, -16 + len(series)),
                                    "value": series, "storm": k}))
    df = pd.concat(frames, ignore_index=True)
    if (row, col) == (0, 0):
        ax.axvline(0, color="black", lw=1.6, zorder=1)
    elif (row, col) in GRAY_ZERO:
        ax.axvline(0, color="#6e6e6e", lw=1.6, zorder=1)
    else:
        ax.axvline(0, color="black", lw=0.9, zorder=1)
    if zero_h:
        ax.axhline(0, color="#888888" if (row, col) == (1, 3) else "black",
                   lw=1.6 if (row, col) == (1, 3) else 0.9, zorder=1)
    sns.lineplot(data=df, x="hour", y="value", units="storm", estimator=None,
                 color="#ff0000", lw=0.9, ax=ax, legend=False, zorder=2)
    mdf = pd.DataFrame({"hour": np.arange(-16, -16 + len(mean)), "value": mean})
    sns.lineplot(data=mdf, x="hour", y="value", color="black", lw=1.8, ax=ax, zorder=3)
    ax.set_xlim(-16, xmax)
    ax.set_ylim(*ylim)
    ax.set_xlabel("")
    ax.set_ylabel("")
    ax.xaxis.set_major_locator(MultipleLocator(8))
    ax.xaxis.set_minor_locator(MultipleLocator(1))
    ax.yaxis.set_major_locator(MultipleLocator(ymaj))
    ax.yaxis.set_minor_locator(MultipleLocator(ymin))
    ax.tick_params(which="both", direction="in", top=False, right=False, width=0.8,
                   colors="black")
    ax.tick_params(which="major", length=4)
    ax.tick_params(which="minor", length=2)
    ax.tick_params(axis="x", labelsize=9 if row == 1 else 6.5, pad=3)
    ax.tick_params(axis="y", labelsize=8, pad=2)
    for name, sp in ax.spines.items():
        sp.set_visible(True)
        if name in ("top", "right"):
            sp.set_color("#7a7a7a")
            sp.set_linewidth(1.1)
        else:
            sp.set_color("black")
            sp.set_linewidth(0.8)
    ax.set_facecolor("white")

ID = IdentityTransform()

# growth-phase titles
top_centers = [217, 585, 950, 1336]
bot_centers = [220, 580, 952, 1338]
for cx, t in zip(top_centers, growth_titles_top):
    fig.text(cx, H - 74, t, transform=ID, ha="center", va="baseline",
             fontsize=16, fontweight="bold", color="black")
for cx, t in zip(bot_centers, growth_titles_bottom):
    fig.text(cx, H - 596, t, transform=ID, ha="center", va="baseline",
             fontsize=16, fontweight="bold", color="black")

# axis labels
for r, lab, x, yc in [(0, pc_label, 28, 192), (1, symh_label, 24, 392),
                      (2, pc_label, 28, 720), (3, symh_label, 24, 919)]:
    fig.text(x, H - yc, lab, transform=ID, ha="center", va="center",
             rotation=90, fontsize=10.5, color="black")
for col in range(4):
    cx = COL_LEFT[col] + AX_W / 2
    fig.text(cx, H - 512, xlabel_text, transform=ID, ha="center", va="baseline",
             fontsize=12, color="black")
    fig.text(cx, H - 1031, xlabel_text, transform=ID, ha="center", va="baseline",
             fontsize=12, color="black")

# headers with subscript
renderer = fig.canvas.get_renderer()


def rich_header(cx, base_y, parts):
    objs = []
    total = 0.0
    for s, size, dy in parts:
        t = fig.text(0, 0, s, transform=ID, ha="left", va="baseline",
                     fontsize=size, fontweight="bold", color="black")
        w = t.get_window_extent(renderer).width
        objs.append((t, w, dy))
        total += w
    x = cx - total / 2
    for t, w, dy in objs:
        t.set_position((x, H - base_y - dy))
        x += w


rich_header(762, 31, [("Classical storms,   Dst", 21, 0), ("max", 17.5, 11),
                      (" = 90-120 nT", 21, 0)])
rich_header(413, 557, [("Dst", 21, 0), ("max", 17.5, 11), (" = 120-200 nT", 21, 0)])
rich_header(1110, 557, [("Dst", 21, 0), ("max", 17.5, 11), (" >200 nT", 21, 0)])

fig.savefig("out.png", dpi=100, facecolor="white")
